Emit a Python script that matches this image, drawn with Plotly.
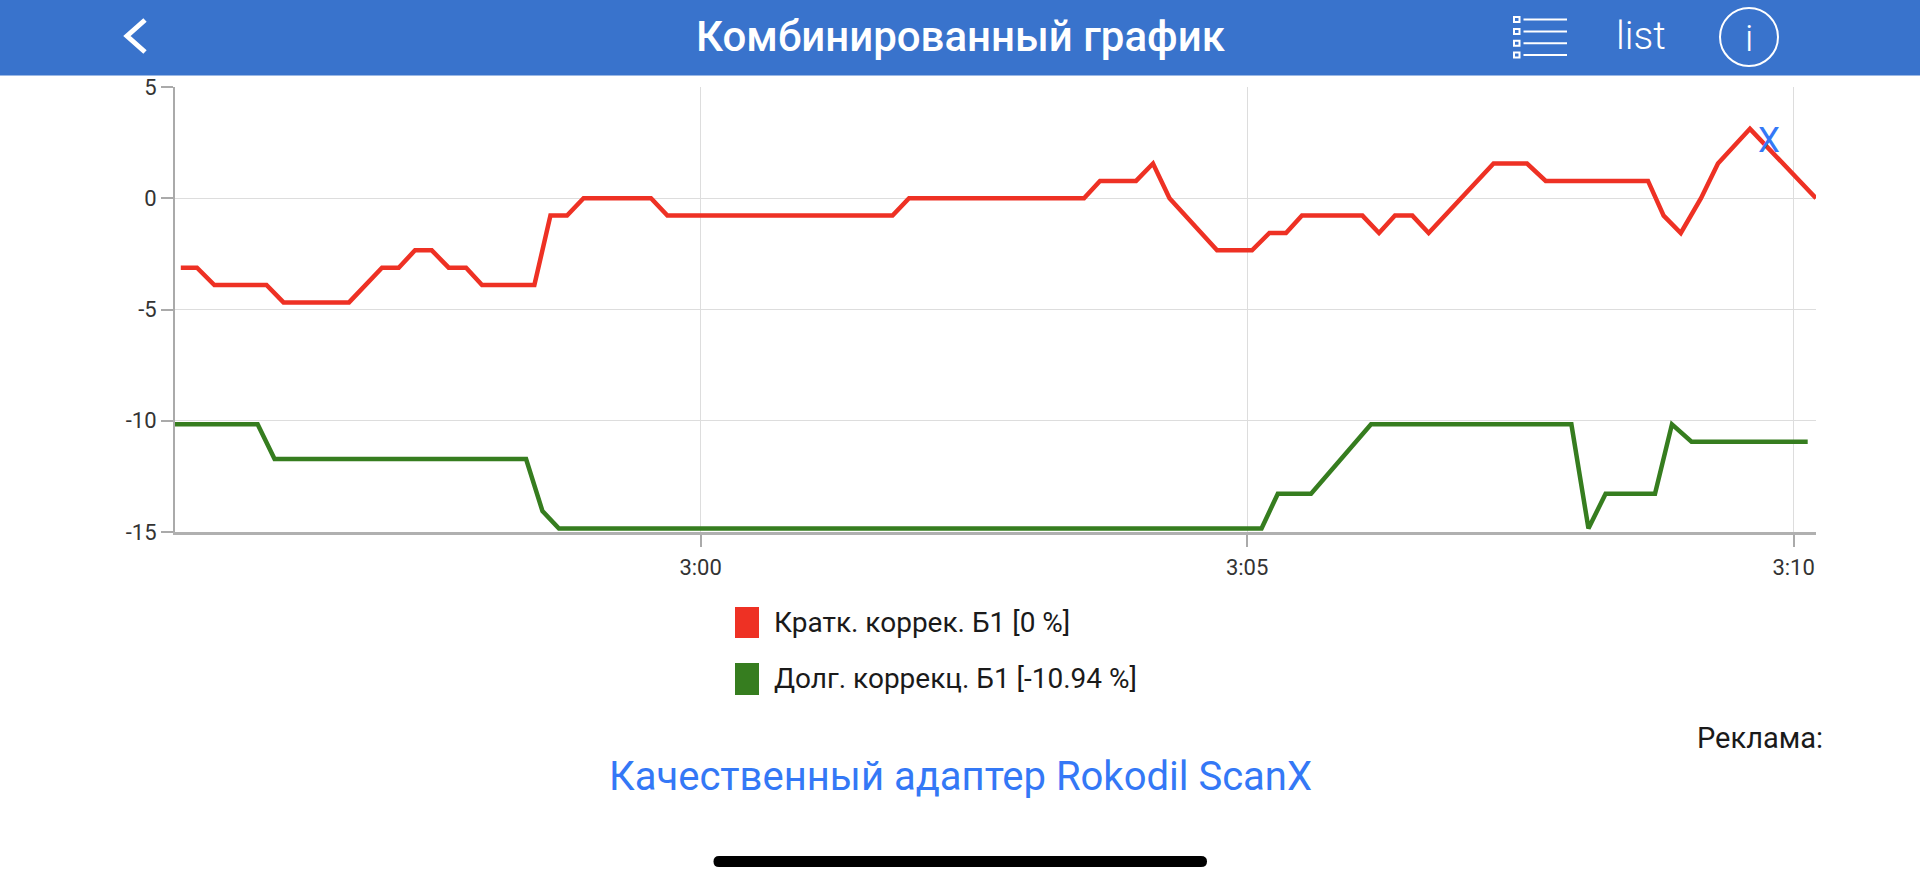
import plotly.graph_objects as go

W, H = 1920, 887
FONT = "Roboto"

# minutes relative to 3:00
red_t = [-4.756, -4.608, -4.449, -3.972, -3.816, -3.217, -2.915, -2.762, -2.613, -2.460,
         -2.305, -2.146, -2.000, -1.521, -1.374, -1.222, -1.071, -0.454, -0.304, 1.756,
         1.907, 3.508, 3.654, 3.984, 4.139, 4.290, 4.725, 5.045, 5.204, 5.356,
         5.502, 6.055, 6.207, 6.353, 6.512, 6.661, 7.255, 7.561, 7.732, 8.668,
         8.811, 8.968, 9.153, 9.308, 9.601, 10.205]
red_v = [-3.12, -3.12, -3.9, -3.9, -4.68, -4.68, -3.12, -3.12, -2.34, -2.34,
         -3.12, -3.12, -3.9, -3.9, -0.78, -0.78, 0, 0, -0.78, -0.78,
         0, 0, 0.78, 0.78, 1.56, 0, -2.34, -2.34, -1.56, -1.56,
         -0.78, -0.78, -1.56, -0.78, -0.78, -1.56, 1.56, 1.56, 0.78, 0.78,
         -0.78, -1.56, 0, 1.56, 3.12, 0]

green_t = [-4.809, -4.053, -3.898, -1.597, -1.447, -1.296, 5.132, 5.281, 5.585, 6.134,
           7.967, 8.123, 8.280, 8.732, 8.887, 9.066, 10.129]
green_v = [-10.16, -10.16, -11.72, -11.72, -14.06, -14.84, -14.84, -13.28, -13.28, -10.16,
           -10.16, -14.84, -13.28, -13.28, -10.16, -10.94, -10.94]

x_ticks = [0, 5, 10]
x_labels = ["3:00", "3:05", "3:10"]
y_ticks = [-15, -10, -5, 0, 5]
y_labels = ["-15", "-10", "-5", "0", "5"]
series_names = ["Кратк. коррек. Б1 [0 %]", "Долг. коррекц. Б1 [-10.94 %]"]
series_colors = ["#EE3124", "#367D1F"]

HEADER = "#3973CC"
LINK = "#3478F6"


def fx(px):
    return px / W


def fy(py):
    return 1 - py / H


def rect(x0, y0, x1, y1, fill, line=None, width=0):
    return dict(type="rect", xref="paper", yref="paper", x0=fx(x0), x1=fx(x1), y0=fy(y0), y1=fy(y1),
                fillcolor=fill, line=dict(color=line, width=width), layer="above")


def hline(x0, x1, y, color="white", width=2):
    return dict(type="line", xref="paper", yref="paper", x0=fx(x0), x1=fx(x1), y0=fy(y), y1=fy(y),
                line=dict(color=color, width=width), layer="above")


def text(s, x, y, size, color, anchor="center", weight=400):
    return dict(text=s, xref="paper", yref="paper", x=fx(x), y=fy(y), xanchor=anchor, yanchor="middle",
                showarrow=False, font=dict(family=FONT, size=size, color=color, weight=weight))


fig = go.Figure()
fig.add_trace(go.Scatter(x=red_t, y=red_v, mode="lines", line=dict(color=series_colors[0], width=4.5), name=series_names[0]))
fig.add_trace(go.Scatter(x=green_t, y=green_v, mode="lines", line=dict(color=series_colors[1], width=4.5), name=series_names[1]))

shapes = [rect(0, 0, W, 75.5, HEADER)]
# back chevron
shapes.append(dict(type="path", xref="paper", yref="paper", layer="above",
                   path=f"M {fx(145)} {fy(20)} L {fx(127)} {fy(36)} L {fx(145)} {fy(52)}",
                   line=dict(color="white", width=5)))
# list icon
for iy in [19.5, 31.4, 43.2, 55.1]:
    shapes.append(rect(1514, iy - 2.5, 1519.5, iy + 2.5, "rgba(0,0,0,0)", "white", 2))
    shapes.append(hline(1523.5, 1567, iy))
# info circle
shapes.append(dict(type="circle", xref="paper", yref="paper", layer="above",
                   x0=fx(1720), x1=fx(1778), y0=fy(8), y1=fy(66), line=dict(color="white", width=2)))
# legend swatches
shapes.append(rect(735, 607, 759, 638, series_colors[0]))
shapes.append(rect(735, 663, 759, 695, series_colors[1]))
# home bar
shapes.append(dict(type="path", xref="paper", yref="paper", layer="above", fillcolor="black", line=dict(width=0),
                   path=(f"M {fx(719)} {fy(856)} L {fx(1201)} {fy(856)} Q {fx(1207)} {fy(856)} {fx(1207)} {fy(861.5)} "
                         f"Q {fx(1207)} {fy(867)} {fx(1201)} {fy(867)} L {fx(719)} {fy(867)} "
                         f"Q {fx(713.5)} {fy(867)} {fx(713.5)} {fy(861.5)} Q {fx(713.5)} {fy(856)} {fx(719)} {fy(856)} Z")))

annotations = [
    text("Комбинированный график", 961, 36, 42, "white", weight=500),
    text("list", 1641, 36, 39, "white", weight=300),
    text("i", 1749, 38, 37, "white", weight=300),
    text(series_names[0], 772, 622, 28, "#1a1a1a", "left"),
    text(series_names[1], 772, 678, 28, "#1a1a1a", "left"),
    text("Реклама:", 1825, 738, 29, "#1a1a1a", "right"),
    text("Качественный адаптер Rokodil ScanX", 960, 776, 40, LINK),
    dict(text="X", x=9.775, y=2.6, xref="x", yref="y", showarrow=False,
         font=dict(family=FONT, size=35, color=LINK)),
]

fig.update_layout(
    width=W, height=H, autosize=False,
    margin=dict(l=0, r=0, t=0, b=0, autoexpand=False),
    paper_bgcolor="white", plot_bgcolor="white",
    showlegend=False,
    shapes=shapes, annotations=annotations,
    font=dict(family=FONT, size=22, color="#333333"),
    xaxis=dict(domain=[fx(175), fx(1816)], range=[-4.809, 10.205],
               tickmode="array", tickvals=x_ticks, ticktext=x_labels, ticklabelstandoff=2,
               ticks="outside", ticklen=12, tickwidth=2, tickcolor="#aaaaaa",
               showgrid=True, gridcolor="#dddddd", gridwidth=1,
               showline=True, linecolor="#b0b0b0", linewidth=2.5, zeroline=False),
    yaxis=dict(domain=[fy(532), fy(87)], range=[-15, 5],
               tickmode="array", tickvals=y_ticks, ticktext=y_labels,
               ticks="outside", ticklen=12, tickwidth=2, tickcolor="#aaaaaa",
               showgrid=True, gridcolor="#dddddd", gridwidth=1,
               showline=True, linecolor="#aaaaaa", linewidth=2, zeroline=False),
)

fig.write_html("out.html", config=dict(displayModeBar=False),
               post_script="document.body.style.margin='0';document.body.style.overflow='hidden';")
